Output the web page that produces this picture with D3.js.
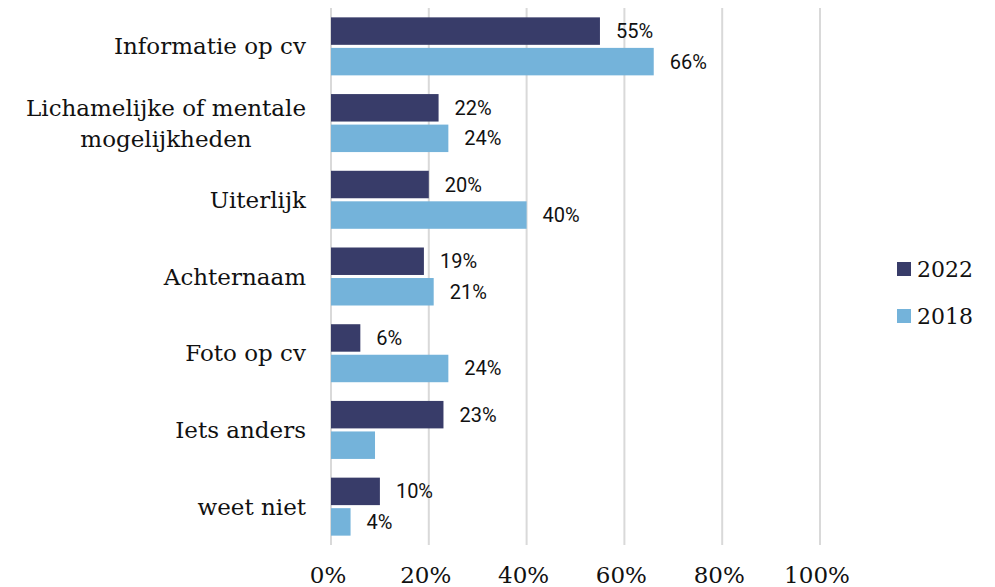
<!DOCTYPE html>
<html>
<head>
<meta charset="utf-8">
<script src="https://cdn.jsdelivr.net/npm/d3@7"></script>
<style>
  body { margin: 0; background: #fff; }
  svg { display: block; }
</style>
</head>
<body>
<svg id="chart" width="995" height="587"></svg>
<script>
// categorieën en waarden (percentages)
const categories = ["Informatie op cv", "Lichamelijke of mentale mogelijkheden", "Uiterlijk", "Achternaam", "Foto op cv", "Iets anders", "weet niet"];
const labelLines = [["Informatie op cv"], ["Lichamelijke of mentale", "mogelijkheden"], ["Uiterlijk"], ["Achternaam"], ["Foto op cv"], ["Iets anders"], ["weet niet"]];
const series = ["2022", "2018"];
const values2022 = [55, 22, 20, 19, 6, 23, 10];
const values2018 = [66, 24, 40, 21, 24, 9, 4];
const showLabel2018 = [true, true, true, true, true, false, true];
const tickValues = [0, 20, 40, 60, 80, 100];

const colors = { "2022": "#383c69", "2018": "#74b3da" };
const serif = "'DejaVu Serif', 'Liberation Serif', serif";

const svg = d3.select("#chart");
const x = d3.scaleLinear().domain([0, 100]).range([331, 820]);
const y = d3.scaleBand().domain(categories).range([8, 545]);
const inner = d3.scaleBand().domain(series).range([0, 58]).paddingInner(0.1);
const barOffset = (y.bandwidth() - 58) / 2;

// rasterlijnen
svg.append("g").selectAll("line").data(tickValues).enter().append("line")
  .attr("x1", d => x(d)).attr("x2", d => x(d))
  .attr("y1", 8).attr("y2", 545)
  .attr("stroke", "#d9d9d9").attr("stroke-width", 2);

// x-as labels
svg.append("g").selectAll("text").data(tickValues).enter().append("text")
  .attr("x", d => x(d) - 3).attr("y", 583)
  .attr("text-anchor", "middle")
  .style("font-family", serif).style("font-size", "23px").attr("fill", "#111")
  .text(d => d + "%");

// categorie labels (meerdere regels: gecentreerd blok, rechts uitgelijnd)
const catG = svg.append("g");
categories.forEach((c, i) => {
  const lines = labelLines[i];
  const cy = y(c) + y.bandwidth() / 2;
  const lh = 31;
  const t = catG.append("text")
    .style("font-family", serif).style("font-size", "23px").attr("fill", "#111");
  const spans = lines.map((l, j) => t.append("tspan")
    .attr("y", cy + (j - (lines.length - 1) / 2) * lh)
    .attr("dy", "0.35em")
    .text(l));
  const maxW = d3.max(spans, s => s.node().getComputedTextLength());
  spans.forEach(s => s.attr("x", 306 - maxW / 2).attr("text-anchor", "middle"));
});

// staven
const rows = categories.map((c, i) => ({ cat: c, vals: [
  { s: "2022", v: values2022[i], show: true },
  { s: "2018", v: values2018[i], show: showLabel2018[i] }
]}));

const groups = svg.append("g").selectAll("g").data(rows).enter().append("g")
  .attr("transform", d => `translate(0,${y(d.cat) + barOffset})`);

groups.selectAll("rect").data(d => d.vals).enter().append("rect")
  .attr("x", x(0))
  .attr("y", d => inner(d.s))
  .attr("width", d => x(d.v) - x(0))
  .attr("height", inner.bandwidth())
  .attr("fill", d => colors[d.s]);

groups.selectAll("text").data(d => d.vals.filter(v => v.show)).enter().append("text")
  .attr("x", d => x(d.v) + 16)
  .attr("y", d => inner(d.s) + inner.bandwidth() / 2)
  .attr("dy", "0.35em")
  .style("font-family", "Roboto, sans-serif").style("font-size", "20px").attr("fill", "#111")
  .text(d => d.v + "%");

// legenda
const legend = svg.append("g").selectAll("g").data(series).enter().append("g")
  .attr("transform", (d, i) => `translate(897,${269 + i * 47})`);
legend.append("rect")
  .attr("x", 0).attr("y", -7).attr("width", 14).attr("height", 14)
  .attr("fill", d => colors[d]);
legend.append("text")
  .attr("x", 20).attr("y", 0).attr("dy", "0.35em")
  .style("font-family", serif).style("font-size", "22px").attr("fill", "#111")
  .text(d => d);
</script>
</body>
</html>
